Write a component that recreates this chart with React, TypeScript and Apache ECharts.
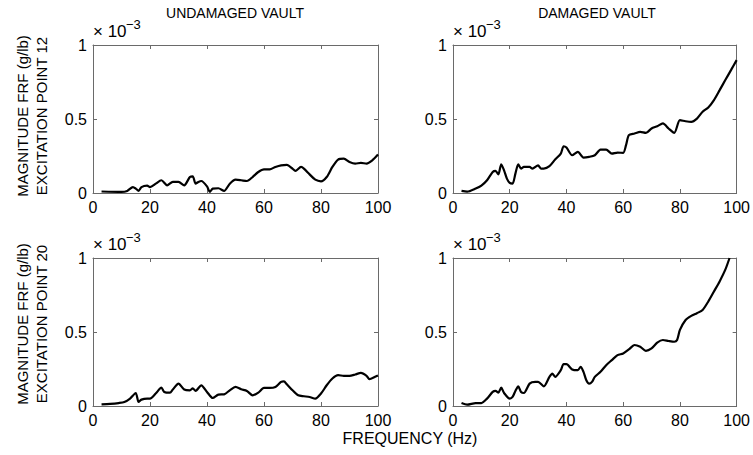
import React, { useEffect, useRef } from "react";
import * as echarts from "echarts";

// Frequencies (Hz) and FRF magnitudes (×10^-3 g/lb)
const undamaged12Freq = [3, 10, 12, 14, 15, 16, 17, 19, 20, 22, 24, 26, 28, 30, 32, 34, 35, 36, 37, 38, 40, 41, 42, 44, 46, 48, 50, 52, 54, 56, 58, 60, 62, 64, 66, 68, 70, 71, 73, 74, 76, 78, 80, 82, 84, 86, 88, 90, 92, 94, 96, 98, 100];
const undamaged12Mag = [0.01, 0.007, 0.014, 0.04, 0.03, 0.014, 0.04, 0.05, 0.04, 0.063, 0.086, 0.052, 0.075, 0.075, 0.052, 0.108, 0.113, 0.063, 0.075, 0.081, 0.045, 0.007, 0.03, 0.032, 0.014, 0.063, 0.09, 0.086, 0.081, 0.108, 0.142, 0.16, 0.16, 0.176, 0.187, 0.19, 0.165, 0.149, 0.176, 0.165, 0.126, 0.09, 0.079, 0.108, 0.176, 0.226, 0.232, 0.21, 0.199, 0.203, 0.199, 0.221, 0.26];

const damaged12Freq = [3, 5, 8, 10, 12, 14, 15, 16, 17, 18, 19, 20, 21, 22, 23, 24, 25, 27, 28, 30, 31, 32, 34, 36, 38, 39, 40, 42, 44, 46, 48, 50, 52, 54, 56, 58, 60, 61, 62, 64, 66, 68, 70, 72, 74, 76, 78, 80, 82, 84, 86, 88, 90, 92, 94, 96, 98, 100];
const damaged12Mag = [0.014, 0.009, 0.03, 0.05, 0.086, 0.142, 0.149, 0.126, 0.194, 0.153, 0.097, 0.068, 0.063, 0.131, 0.194, 0.165, 0.176, 0.176, 0.165, 0.187, 0.165, 0.165, 0.181, 0.226, 0.266, 0.316, 0.307, 0.255, 0.278, 0.239, 0.244, 0.255, 0.293, 0.293, 0.266, 0.273, 0.271, 0.323, 0.391, 0.402, 0.413, 0.406, 0.436, 0.451, 0.47, 0.436, 0.406, 0.492, 0.485, 0.481, 0.503, 0.549, 0.578, 0.628, 0.695, 0.763, 0.83, 0.898];

const undamaged20Freq = [3, 6, 9, 11, 13, 15, 16, 17, 19, 20, 22, 24, 25, 27, 28, 30, 32, 34, 35, 36, 38, 40, 42, 44, 46, 48, 50, 52, 54, 56, 58, 60, 62, 64, 66, 67, 68, 70, 72, 74, 76, 78, 80, 82, 84, 86, 88, 90, 92, 94, 96, 97, 99, 100];
const undamaged20Mag = [0.011, 0.014, 0.02, 0.027, 0.05, 0.088, 0.027, 0.043, 0.05, 0.05, 0.084, 0.124, 0.095, 0.09, 0.111, 0.151, 0.111, 0.106, 0.12, 0.102, 0.14, 0.095, 0.054, 0.077, 0.079, 0.106, 0.129, 0.113, 0.102, 0.072, 0.09, 0.122, 0.122, 0.129, 0.163, 0.167, 0.147, 0.106, 0.072, 0.066, 0.061, 0.05, 0.084, 0.14, 0.186, 0.208, 0.204, 0.204, 0.213, 0.224, 0.204, 0.181, 0.197, 0.206];

const damaged20Freq = [3, 5, 8, 10, 12, 14, 15, 16, 17, 18, 20, 21, 22, 23, 24, 25, 27, 29, 30, 32, 34, 35, 36, 38, 39, 40, 42, 44, 45, 46, 47, 48, 49, 50, 52, 54, 56, 58, 60, 62, 64, 66, 68, 70, 72, 74, 76, 78, 79, 80, 82, 84, 86, 88, 90, 92, 94, 96, 97.5];
const damaged20Mag = [0.02, 0.009, 0.02, 0.02, 0.05, 0.095, 0.102, 0.09, 0.124, 0.088, 0.05, 0.061, 0.102, 0.133, 0.095, 0.088, 0.151, 0.163, 0.163, 0.133, 0.197, 0.219, 0.197, 0.242, 0.283, 0.283, 0.247, 0.242, 0.265, 0.231, 0.174, 0.151, 0.163, 0.197, 0.231, 0.276, 0.31, 0.344, 0.355, 0.382, 0.412, 0.4, 0.373, 0.389, 0.428, 0.446, 0.439, 0.434, 0.446, 0.514, 0.581, 0.609, 0.627, 0.649, 0.706, 0.774, 0.842, 0.921, 1.0];

const columnTitles = ["UNDAMAGED VAULT", "DAMAGED VAULT"];
const rowTitles = ["EXCITATION POINT 12", "EXCITATION POINT 20"];
const yTitle = "MAGNITUDE FRF (g/lb)";
const xTitle = "FREQUENCY (Hz)";

const FONT = "'Liberation Sans', Arial, Helvetica, sans-serif";
const AXIS_COLOR = "#6a6a6a";

const panels = [
  { freq: undamaged12Freq, mag: undamaged12Mag, left: 93, top: 45, width: 285 },
  { freq: damaged12Freq, mag: damaged12Mag, left: 453, top: 45, width: 287 },
  { freq: undamaged20Freq, mag: undamaged20Mag, left: 93, top: 258, width: 285 },
  { freq: damaged20Freq, mag: damaged20Mag, left: 453, top: 258, width: 287 },
];
const PANEL_H = 148;

export default function App() {
  const ref = useRef<HTMLDivElement>(null);
  useEffect(() => {
    if (!ref.current) return;
    const chart = echarts.init(ref.current, undefined, { renderer: "svg" });

    const grids: any[] = [];
    const xAxes: any[] = [];
    const yAxes: any[] = [];
    const series: any[] = [];
    const graphics: any[] = [];

    panels.forEach((p, i) => {
      grids.push({
        left: p.left,
        top: p.top,
        width: p.width,
        height: PANEL_H,
        show: false,
      });
      const common = {
        gridIndex: i,
        type: "value",
        min: 0,
        splitLine: { show: false },
        axisLine: { show: true, onZero: false, lineStyle: { color: AXIS_COLOR, width: 1 } },
        axisTick: { show: true, inside: true, length: 4, lineStyle: { color: AXIS_COLOR } },
      };
      xAxes.push({
        ...common,
        position: "bottom",
        max: 100,
        interval: 20,
        axisLabel: { show: true, margin: 6, color: "#000", fontSize: 16, fontFamily: FONT },
      });
      xAxes.push({
        ...common,
        position: "top",
        max: 100,
        interval: 20,
        axisLabel: { show: false },
      });
      yAxes.push({
        ...common,
        position: "left",
        max: 1,
        interval: 0.5,
        axisLabel: { show: true, margin: 6, color: "#000", fontSize: 16, fontFamily: FONT },
      });
      yAxes.push({
        ...common,
        position: "right",
        max: 1,
        interval: 0.5,
        axisLabel: { show: false },
      });
      series.push({
        type: "line",
        xAxisIndex: i * 2,
        yAxisIndex: i * 2,
        data: p.freq.map((f, k) => [f, p.mag[k]]),
        showSymbol: false,
        smooth: 0.25,
        lineStyle: { color: "#000", width: 2.2 },
        clip: true,
      });
      // multiplier label
      graphics.push({
        type: "text",
        left: p.left,
        top: p.top - 22,
        style: { text: "× 10", fontSize: 17, fontFamily: FONT, fill: "#000" },
      });
      graphics.push({
        type: "text",
        left: p.left + 33,
        top: p.top - 27,
        style: { text: "−3", fontSize: 13, fontFamily: FONT, fill: "#000" },
      });
    });

    // column titles
    graphics.push({
      type: "text",
      x: 235,
      y: 13,
      style: { text: columnTitles[0], fontSize: 14, fontFamily: FONT, fill: "#000", align: "center", verticalAlign: "middle" },
    });
    graphics.push({
      type: "text",
      x: 597,
      y: 13,
      style: { text: columnTitles[1], fontSize: 14, fontFamily: FONT, fill: "#000", align: "center", verticalAlign: "middle" },
    });
    // row titles (rotated)
    const rowCenters = [116, 324];
    rowCenters.forEach((cy, r) => {
      graphics.push({
        type: "text",
        x: 22,
        y: cy,
        rotation: Math.PI / 2,
        style: { text: yTitle, fontSize: 15, fontFamily: FONT, fill: "#000", align: "center", verticalAlign: "middle" },
      });
      graphics.push({
        type: "text",
        x: 41,
        y: cy,
        rotation: Math.PI / 2,
        style: { text: rowTitles[r], fontSize: 15, fontFamily: FONT, fill: "#000", align: "center", verticalAlign: "middle" },
      });
    });
    graphics.push({
      type: "text",
      x: 410,
      y: 438,
      style: { text: xTitle, fontSize: 16, fontFamily: FONT, fill: "#000", align: "center", verticalAlign: "middle" },
    });

    chart.setOption({
      animation: false,
      backgroundColor: "#fff",
      grid: grids,
      xAxis: xAxes,
      yAxis: yAxes,
      series,
      graphic: graphics,
    });
    return () => chart.dispose();
  }, []);

  return (
    <div
      ref={ref}
      style={{ position: "fixed", left: 0, top: 0, width: 753, height: 455, background: "#fff" }}
    />
  );
}
